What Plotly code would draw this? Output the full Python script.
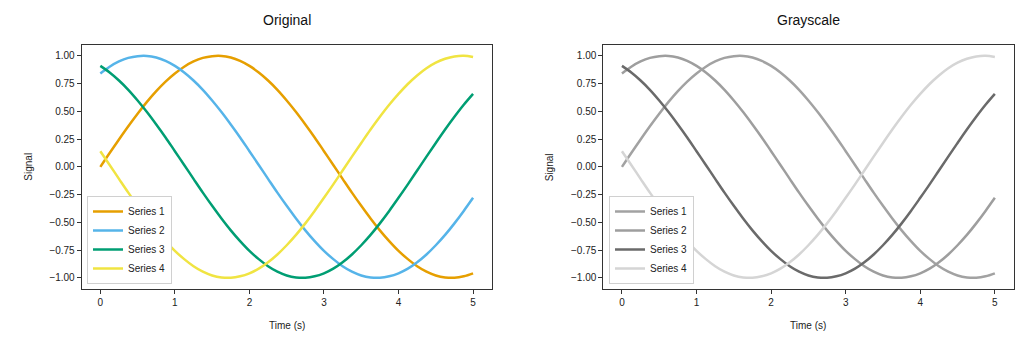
import plotly.graph_objects as go

t = [0.0, 0.125, 0.25, 0.375, 0.5, 0.625, 0.75, 0.875, 1.0, 1.125, 1.25, 1.375,
     1.5, 1.625, 1.75, 1.875, 2.0, 2.125, 2.25, 2.375, 2.5, 2.625, 2.75, 2.875,
     3.0, 3.125, 3.25, 3.375, 3.5, 3.625, 3.75, 3.875, 4.0, 4.125, 4.25, 4.375,
     4.5, 4.625, 4.75, 4.875, 5.0]
series_1 = [0.0, 0.125, 0.247, 0.366, 0.479, 0.585, 0.682, 0.768, 0.841, 0.902, 0.949,
            0.981, 0.997, 0.999, 0.984, 0.954, 0.909, 0.850, 0.778, 0.694, 0.598, 0.494,
            0.382, 0.265, 0.141, 0.017, -0.108, -0.232, -0.351, -0.465, -0.572, -0.669,
            -0.757, -0.831, -0.895, -0.944, -0.978, -0.996, -0.999, -0.986, -0.959]
series_2 = [0.841, 0.902, 0.949, 0.981, 0.997, 0.999, 0.984, 0.954, 0.909, 0.850, 0.778,
            0.694, 0.598, 0.494, 0.382, 0.265, 0.141, 0.017, -0.108, -0.232, -0.351,
            -0.465, -0.572, -0.669, -0.757, -0.831, -0.895, -0.944, -0.978, -0.996,
            -0.999, -0.986, -0.959, -0.917, -0.859, -0.789, -0.706, -0.613, -0.509,
            -0.397, -0.279]
series_3 = [0.909, 0.850, 0.778, 0.694, 0.598, 0.494, 0.382, 0.265, 0.141, 0.017, -0.108,
            -0.232, -0.351, -0.465, -0.572, -0.669, -0.757, -0.831, -0.895, -0.944,
            -0.978, -0.996, -0.999, -0.986, -0.959, -0.917, -0.859, -0.789, -0.706,
            -0.613, -0.509, -0.397, -0.279, -0.158, -0.033, 0.092, 0.215, 0.336, 0.451,
            0.559, 0.657]
series_4 = [0.141, 0.017, -0.108, -0.232, -0.351, -0.465, -0.572, -0.669, -0.757, -0.831,
            -0.895, -0.944, -0.978, -0.996, -0.999, -0.986, -0.959, -0.917, -0.859,
            -0.789, -0.706, -0.613, -0.509, -0.397, -0.279, -0.158, -0.033, 0.092, 0.215,
            0.336, 0.451, 0.559, 0.657, 0.746, 0.823, 0.888, 0.938, 0.973, 0.994, 1.000,
            0.989]
names = ["Series 1", "Series 2", "Series 3", "Series 4"]
colors = ["#E69F00", "#56B4E9", "#009E73", "#F0E442"]
grays = ["#a2a2a2", "#9e9e9e", "#6a6a6a", "#d5d5d5"]
y_ticks = [-1.0, -0.75, -0.5, -0.25, 0.0, 0.25, 0.5, 0.75, 1.0]
x_ticks = [0, 1, 2, 3, 4, 5]
titles = ["Original", "Grayscale"]

data = [series_1, series_2, series_3, series_4]
font = "Liberation Sans, Arial, Helvetica, sans-serif"

fig = go.Figure()
for i, (nm, ys) in enumerate(zip(names, data)):
    fig.add_trace(go.Scatter(x=t, y=ys, name=nm, mode="lines",
                             line=dict(color=colors[i], width=2.5, shape="spline", smoothing=1),
                             xaxis="x", yaxis="y", legend="legend"))
for i, (nm, ys) in enumerate(zip(names, data)):
    fig.add_trace(go.Scatter(x=t, y=ys, name=nm, mode="lines",
                             line=dict(color=grays[i], width=2.5, shape="spline", smoothing=1),
                             xaxis="x2", yaxis="y2", legend="legend2"))

ydom = [1 - 289 / 352, 1 - 44.7 / 352]
dom1 = [81.7 / 1033, 491.7 / 1033]
dom2 = [603.3 / 1033, 1013.5 / 1033]

axis_common = dict(showline=True, mirror=True, linecolor="#333", linewidth=1,
                   ticks="outside", ticklen=4, tickcolor="#333", showgrid=False,
                   zeroline=False, tickfont=dict(size=10, color="#222", family=font))

legend_common = dict(bgcolor="white", bordercolor="#d0d0d0", borderwidth=1,
                     font=dict(size=10, color="#222", family=font),
                     xanchor="left", yanchor="bottom", tracegroupgap=0,
                     itemwidth=30)

fig.update_layout(
    width=1033, height=352,
    margin=dict(l=0, r=0, t=0, b=0),
    paper_bgcolor="white", plot_bgcolor="white",
    font=dict(family=font, color="#222"),
    xaxis=dict(domain=dom1, range=[-0.25, 5.25], tickvals=x_ticks, anchor="y", **axis_common),
    yaxis=dict(domain=ydom, range=[-1.1, 1.1], tickvals=y_ticks, tickformat=".2f", anchor="x", **axis_common),
    xaxis2=dict(domain=dom2, range=[-0.25, 5.25], tickvals=x_ticks, anchor="y2", **axis_common),
    yaxis2=dict(domain=ydom, range=[-1.1, 1.1], tickvals=y_ticks, tickformat=".2f", anchor="x2", **axis_common),
    legend=dict(x=87 / 1033, y=1 - 284 / 352, **legend_common),
    legend2=dict(x=609 / 1033, y=1 - 284 / 352, **legend_common),
    showlegend=True,
)

annotations = []
for dom, title in zip([dom1, dom2], titles):
    cx = (dom[0] + dom[1]) / 2
    annotations.append(dict(text=title, x=cx, y=1 - 20 / 352, xref="paper", yref="paper",
                            showarrow=False, font=dict(size=14, family=font, color="#111"),
                            xanchor="center", yanchor="middle"))
    annotations.append(dict(text="Time (s)", x=cx, y=1 - 325 / 352, xref="paper", yref="paper",
                            showarrow=False, font=dict(size=10, family=font, color="#222"),
                            xanchor="center", yanchor="middle"))
    annotations.append(dict(text="Signal", x=(dom[0] * 1033 - 53) / 1033, y=1 - 167 / 352,
                            xref="paper", yref="paper", textangle=-90,
                            showarrow=False, font=dict(size=10, family=font, color="#222"),
                            xanchor="center", yanchor="middle"))
fig.update_layout(annotations=annotations)

fig.write_html("out.html")
